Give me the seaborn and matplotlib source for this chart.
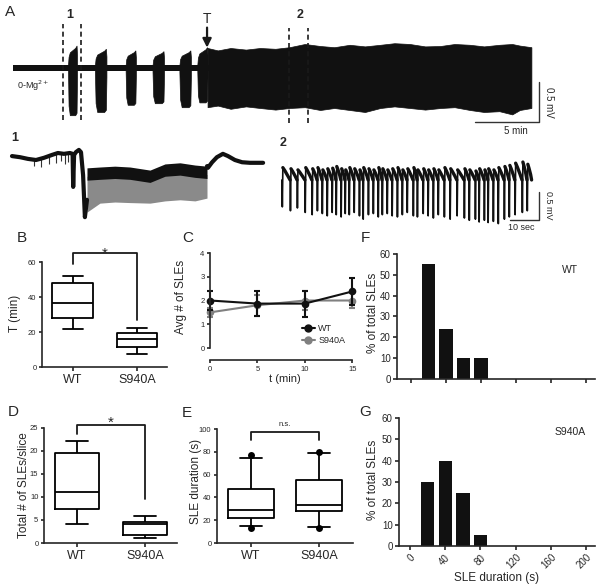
import matplotlib
matplotlib.use("Agg")
import matplotlib.pyplot as plt
import seaborn as sns
import pandas as pd
import numpy as np
from matplotlib.lines import Line2D

# ---------------- data ----------------
# Panel A overview trace (time in min, voltage in mV)
burst_start = [4.3, 6.4, 8.8, 10.9, 13.0, 14.4]
burst_end = [5.0, 7.3, 9.6, 11.8, 13.9, 15.2]
burst_top = [0.28, 0.24, 0.22, 0.21, 0.22, 0.26]
burst_bottom = [-0.59, -0.55, -0.46, -0.44, -0.49, -0.43]
dense_t = [15.2, 16.0, 17.0, 18.2, 19.3, 20.5, 21.6, 22.8, 24.0, 25.1, 26.3, 27.5, 28.7,
           29.8, 31.0, 32.2, 33.4, 34.5, 35.7, 36.8, 38.0, 39.0, 39.6, 40.5]
dense_upper = [0.25, 0.22, 0.25, 0.23, 0.25, 0.24, 0.26, 0.30, 0.275, 0.26, 0.29, 0.27, 0.29,
               0.31, 0.30, 0.27, 0.275, 0.30, 0.29, 0.27, 0.29, 0.30, 0.28, 0.26]
dense_lower = [-0.49, -0.47, -0.51, -0.48, -0.50, -0.52, -0.50, -0.49, -0.525, -0.50, -0.525, -0.55, -0.50,
               -0.48, -0.50, -0.52, -0.50, -0.49, -0.525, -0.55, -0.54, -0.58, -0.525, -0.50]
trace_end = 40.5
seg1_bounds = [3.9, 5.3]
seg2_bounds = [21.6, 23.05]
t_marker = 15.16

# Trace 1 (expanded segment 1; time in s, voltage in mV)
tr1_t = [0, 2.7, 5.3, 8.0, 10.7, 13.3, 15.3, 17.3, 19.3, 20.2, 20.4, 20.7, 21.3, 22.3, 23.0,
         23.7, 24.3, 25.0]
tr1_v = [0.07, 0.05, 0.02, 0.0, 0.04, 0.09, 0.125, 0.11, 0.125, 0.11, -0.48, 0.09, 0.14, 0.18, 0.14,
         -0.27, -1.02, -0.71]
tr1_spike_t = [7.3, 9.6, 12.3, 14.8, 16.2, 17.6, 18.6]
tr1_spike_v = [-0.10, -0.12, -0.08, -0.05, -0.02, -0.08, -0.03]
tr1_burst_t = [25.0, 29.3, 34.3, 39.3, 46.0, 51.0, 56.0, 61.0, 65.0]
tr1_burst_upper = [-0.14, -0.125, -0.11, -0.125, -0.18, -0.07, -0.05, -0.09, -0.11]
tr1_burst_lower = [-0.93, -0.77, -0.75, -0.76, -0.77, -0.73, -0.71, -0.73, -0.68]
tr1_post_t = [65.0, 65.3, 66.7, 68.3, 70.3, 72.0, 74.3, 76.7, 79.3, 83.7]
tr1_post_v = [-0.11, -0.14, -0.04, 0.05, 0.11, 0.07, 0.0, -0.04, -0.05, -0.05]

# Trace 2 (expanded segment 2; event times in s, peaks in mV)
tr2_event_t = [0.0, 2.8, 5.2, 7.9, 10.3, 12.1, 13.8, 15.5, 17.2, 18.6, 20.3, 21.7, 23.1, 24.8, 26.6,
               27.9, 29.7, 31.4, 33.1, 34.5, 36.2, 37.9, 39.7, 41.4, 43.1, 45.2, 46.6, 48.6, 50.3,
               52.1, 53.8, 55.9, 57.9, 60.3, 62.8, 64.5, 66.6, 67.9, 69.7, 71.0, 72.8, 74.5, 76.6,
               78.3, 80.3, 82.8, 84.5]
tr2_event_bottom = [-0.48, -0.55, -0.50, -0.58, -0.62, -0.55, -0.60, -0.64, -0.58, -0.62, -0.66, -0.60,
                    -0.62, -0.58, -0.64, -0.70, -0.62, -0.60, -0.66, -0.62, -0.60, -0.64, -0.66, -0.62,
                    -0.58, -0.64, -0.66, -0.60, -0.64, -0.68, -0.62, -0.66, -0.70, -0.64, -0.68, -0.72,
                    -0.70, -0.75, -0.72, -0.76, -0.74, -0.78, -0.70, -0.66, -0.62, -0.58, -0.55]
tr2_event_top = [0.22, 0.20, 0.18, 0.22, 0.20, 0.22, 0.18, 0.20, 0.21, 0.24, 0.20, 0.18, 0.22, 0.20,
                 0.18, 0.22, 0.20, 0.18, 0.22, 0.20, 0.18, 0.20, 0.22, 0.18, 0.20, 0.22, 0.18, 0.20,
                 0.18, 0.20, 0.18, 0.22, 0.20, 0.18, 0.20, 0.18, 0.16, 0.20, 0.18, 0.20, 0.18, 0.22,
                 0.24, 0.26, 0.30, 0.32, 0.28]

# Panels B, D, E: box summaries [min, Q1, median, Q3, max]
genotypes = ["WT", "S940A"]
b_wt = [22, 28, 36.5, 48, 52]
b_s940a = [7.4, 11.6, 16, 19.4, 22.5]
d_wt = [4.1, 7.3, 11.0, 19.6, 22.2]
d_s940a = [1.0, 1.8, 4.2, 4.6, 5.9]
e_wt = [15, 22, 29, 47, 75]
e_s940a = [14, 28, 33, 55, 79]
e_points_wt = [77, 13]
e_points_s940a = [80, 13.5]

# Panel C
c_t = [0, 5, 10, 15]
c_wt_mean = [2.0, 1.87, 1.87, 2.38]
c_wt_err = [0.42, 0.52, 0.55, 0.55]
c_s_mean = [1.5, 1.8, 2.0, 2.0]
c_s_err = [0.2, 0.45, 0.4, 0.3]

# Panels F, G
dur_bins = [20, 40, 60, 80]
f_wt_pct = [55, 24, 10, 10]
g_s940a_pct = [30, 40, 25, 5]
hist_ticks = [0, 40, 80, 120, 160, 200]

# ---------------- style ----------------
sns.set_theme(style="ticks")
plt.rcParams['font.family'] = ['Liberation Sans', 'DejaVu Sans']
plt.rcParams['axes.linewidth'] = 1.2
plt.rcParams['xtick.major.width'] = 1.2
plt.rcParams['ytick.major.width'] = 1.2

W, H = 600, 584
fig = plt.figure(figsize=(6, 5.84), dpi=100)
BLK = '#111111'


def pbox(l, t, r, b):
    return [l / W, 1 - b / H, (r - l) / W, (b - t) / H]


def ftext(x, y, s, **kw):
    kw.setdefault('ha', 'center')
    kw.setdefault('va', 'center')
    fig.text(x / W, 1 - y / H, s, **kw)


# ---------------- Panel A overview ----------------
axA = fig.add_axes(pbox(0, 0, 600, 140))
axA.set_xlim(-1.016, 45.86)
axA.set_ylim(-0.9, 0.85)
axA.axis('off')
axA.fill_between([0, trace_end], -0.038, 0.038, color=BLK, lw=0)
fr = [0, 0.06, 0.2, 0.8, 0.95, 1.0]
up_shape = [0.15, 0.5, 0.7, 0.9, 1.0, 0.6]
lo_shape = [0.1, 0.8, 1.0, 1.0, 0.95, 0.2]
for s, e, tp, bt in zip(burst_start, burst_end, burst_top, burst_bottom):
    tt = [s + f * (e - s) for f in fr]
    axA.fill_between(tt, [bt * k for k in lo_shape], [tp * k for k in up_shape], color=BLK, lw=0.5)
axA.fill_between(dense_t, dense_lower, dense_upper, color=BLK, lw=0.5)
for xb in seg1_bounds:
    axA.plot([xb, xb], [-0.65, 0.55], ls=(0, (3, 2)), color='k', lw=1.2)
for xb in seg2_bounds:
    axA.plot([xb, xb], [-0.69, 0.50], ls=(0, (3, 2)), color='k', lw=1.2)
axA.annotate('', xy=(t_marker, 0.22), xytext=(t_marker, 0.54),
             arrowprops=dict(arrowstyle='-|>', lw=1.6, color='k', mutation_scale=13))
axA.plot([41.1, 41.1, 36.1], [-0.175, -0.675, -0.675], color='#333333', lw=1.0)

ftext(10, 12, 'A', fontsize=11)
ftext(70, 15, '1', fontsize=9, fontweight='bold')
ftext(300, 15, '2', fontsize=9, fontweight='bold')
ftext(207, 19, 'T', fontsize=10)
ftext(17, 86, '0-Mg$^{2+}$', fontsize=6.5, ha='left')
ftext(516, 131, '5 min', fontsize=7)
ftext(549, 102, '0.5 mV', fontsize=7, rotation=-90)

# ---------------- Trace 1 ----------------
ax1 = fig.add_axes(pbox(5, 140, 270, 225))
ax1.set_xlim(-2.33, 86)
ax1.set_ylim(-1.16, 0.357)
ax1.axis('off')
spike_base = np.interp(tr1_spike_t, tr1_t, tr1_v)
ax1.vlines(tr1_spike_t, tr1_spike_v, spike_base, color='#333333', lw=0.8)
ax1.plot(tr1_t, tr1_v, lw=3, color=BLK, solid_joinstyle='round')
ax1.fill_between(tr1_burst_t, tr1_burst_lower, [u - 0.15 for u in tr1_burst_upper], color='#8a8a8a', lw=0)
ax1.fill_between(tr1_burst_t, [u - 0.22 for u in tr1_burst_upper], tr1_burst_upper, color=BLK, lw=0)
ax1.plot(tr1_post_t, tr1_post_v, lw=3, color=BLK, solid_joinstyle='round')
ftext(15, 138, '1', fontsize=9, fontweight='bold')

# ---------------- Trace 2 ----------------
ax2 = fig.add_axes(pbox(275, 140, 560, 232))
ax2.set_xlim(-2.41, 95.9)
ax2.set_ylim(-0.93, 0.714)
ax2.axis('off')
sx, sy, dx, dy = [], [], [], []
n_ev = len(tr2_event_t)
for i in range(n_ev):
    t0 = tr2_event_t[i]
    t1 = tr2_event_t[i + 1] if i + 1 < n_ev else t0 + 1.6
    d = t1 - t0
    tp = tr2_event_top[i]
    sx += [t0, t0 + 0.12, t0 + 0.3, np.nan]
    sy += [0.0, tr2_event_bottom[i], tp, np.nan]
    dx += [t0 + 0.3, t0 + 0.3 + 0.25 * d, t0 + 0.3 + 0.6 * d, t1, np.nan]
    dy += [tp, tp * 0.75, tp * 0.35, 0.0, np.nan]
ax2.plot(sx, sy, lw=1.2, color=BLK)
ax2.plot(dx, dy, lw=2.4, color=BLK, solid_capstyle='round')
ax2.plot([88.6, 88.6, 78.6], [-0.214, -0.714, -0.714], color='#333333', lw=1.0)
ftext(283, 143, '2', fontsize=9, fontweight='bold')
ftext(521, 228, '10 sec', fontsize=6.5)
ftext(548, 205, '0.5 mV', fontsize=6.5, rotation=-90)


# ---------------- box panels ----------------
def box_panel(rect, wt, s9, width, ylim, yticks, ylabel):
    ax = fig.add_axes(pbox(*rect))
    df = pd.DataFrame({"genotype": ["WT"] * len(wt) + ["S940A"] * len(s9), "value": wt + s9})
    sns.boxplot(data=df, x="genotype", y="value", order=genotypes, whis=(0, 100),
                width=width, fill=False, color="black", linewidth=1.3, ax=ax)
    ax.set_ylim(*ylim)
    ax.set_yticks(yticks)
    ax.set_yticklabels([str(v) for v in yticks], fontsize=5.5)
    ax.tick_params(axis='y', length=2.5, pad=1.5)
    ax.tick_params(axis='x', length=3, pad=2, labelsize=9)
    ax.set_xlabel('')
    ax.set_ylabel(ylabel, fontsize=8.5)
    sns.despine(ax=ax)
    ax.spines['left'].set_bounds(yticks[0], yticks[-1])
    return ax


axB = box_panel((42, 244, 167, 367), b_wt, b_s940a, 0.64, (0, 70.3), [0, 20, 40, 60], 'T (min)')
axB.set_xlim(-0.484, 1.469)
axB.yaxis.set_label_coords(-(42 - 21) / 125, 0.44)
axB.plot([0, 0, 1, 1], [59, 65, 65, 27], color='k', lw=1.3, clip_on=False)
axB.text(0.5, 62.6, '*', ha='center', va='baseline', fontsize=11)

axD = box_panel((44, 420, 177, 543), d_wt, d_s940a, 0.66, (0, 26.7), [0, 5, 10, 15, 20, 25],
                'Total # of SLEs/slice')
axD.set_xlim(-0.485, 1.47)
axD.yaxis.set_label_coords(-(44 - 30) / 133, 0.47)
axD.plot([0, 0, 1, 1], [23.6, 25.7, 25.7, 9.6], color='k', lw=1.3, clip_on=False)
axD.text(0.5, 25.3, '*', ha='center', va='baseline', fontsize=11)

axE = box_panel((217, 420, 353, 543), e_wt, e_s940a, 0.67, (0, 107.9), [0, 20, 40, 60, 80, 100],
                'SLE duration (s)')
axE.set_xlim(-0.52, 1.51)
pts = pd.DataFrame({"genotype": ["WT"] * 2 + ["S940A"] * 2, "value": e_points_wt + e_points_s940a})
sns.stripplot(data=pts, x="genotype", y="value", order=genotypes, jitter=False, color='black',
              size=5, ax=axE, zorder=5)
axE.set_xlabel('')
axE.set_ylabel('SLE duration (s)', fontsize=8.5)
axE.yaxis.set_label_coords(-(217 - 202) / 136, 0.5)
axE.plot([0, 0, 1, 1], [90, 97.6, 97.6, 90], color='k', lw=1.3, clip_on=False)
axE.text(0.5, 102.6, 'n.s.', ha='center', va='baseline', fontsize=5.5)

# ---------------- Panel C ----------------
axC = fig.add_axes(pbox(210, 245, 360, 360))
dfc = pd.DataFrame({"t": c_t * 2, "mean": c_s_mean + c_wt_mean,
                    "genotype": ["S940A"] * 4 + ["WT"] * 4})
pal = {"WT": BLK, "S940A": '#808080'}
axC.errorbar(c_t, c_s_mean, yerr=c_s_err, fmt='none', ecolor='#808080', elinewidth=1.5, capsize=2.5,
             capthick=1.5, clip_on=False)
sns.lineplot(data=dfc, x="t", y="mean", hue="genotype", hue_order=["S940A", "WT"], palette=pal,
             marker='o', markersize=5.5, markeredgewidth=0, lw=1.5, legend=False, ax=axC)
axC.errorbar(c_t, c_wt_mean, yerr=c_wt_err, fmt='none', ecolor=BLK, elinewidth=1.5, capsize=2.5,
             capthick=1.5, clip_on=False)
for ln in axC.lines:
    ln.set_clip_on(False)
axC.set_xlim(0.31, 15.82)
axC.set_ylim(-0.505, 4.337)
axC.set_xticks([0, 5, 10, 15])
axC.set_xticklabels(['0', '5', '10', '15'], fontsize=5.5)
axC.set_yticks([0, 1, 2, 3, 4])
axC.set_yticklabels(['0', '1', '2', '3', '4'], fontsize=5.5)
axC.tick_params(axis='both', length=2.5, pad=1.5)
sns.despine(ax=axC)
axC.spines['left'].set_bounds(0, 4)
axC.spines['bottom'].set_bounds(0, 15)
axC.set_xlabel('t (min)', fontsize=8, labelpad=1)
axC.set_ylabel('Avg # of SLEs', fontsize=8.5)
axC.yaxis.set_label_coords(-(210 - 187) / 150, 0.55)
handles = [Line2D([], [], color=BLK, marker='o', lw=1.5, ms=5),
           Line2D([], [], color='#808080', marker='o', lw=1.5, ms=5)]
axC.legend(handles, ['WT', 'S940A'], loc='upper left', bbox_to_anchor=((302 - 210) / 150, (360 - 324) / 115),
           frameon=False, fontsize=6.5, handlelength=1.4, handletextpad=0.4, labelspacing=0.3,
           borderpad=0, borderaxespad=0)


# ---------------- Panels F, G ----------------
def hist_panel(rect, pct, xlim, ylim, show_xlabels):
    ax = fig.add_axes(pbox(*rect))
    sns.barplot(x=dur_bins, y=pct, native_scale=True, width=0.76, color=BLK, saturation=1,
                edgecolor=BLK, linewidth=0, ax=ax)
    ax.set_xlim(*xlim)
    ax.set_ylim(*ylim)
    ax.set_xticks(hist_ticks)
    ax.set_yticks([0, 10, 20, 30, 40, 50, 60])
    ax.set_yticklabels(['0', '10', '20', '30', '40', '50', '60'], fontsize=7)
    if show_xlabels:
        ax.set_xticklabels([str(v) for v in hist_ticks], fontsize=7, rotation=45, ha='right',
                           rotation_mode='anchor')
        ax.set_xlabel('SLE duration (s)', fontsize=8.5, labelpad=1)
    else:
        ax.set_xticklabels([])
        ax.set_xlabel('')
    ax.tick_params(axis='both', length=3, pad=1.5)
    ax.set_ylabel('% of total SLEs', fontsize=8.5)
    sns.despine(ax=ax)
    ax.spines['left'].set_bounds(0, 60)
    return ax


axF = hist_panel((397, 250, 595, 379), f_wt_pct, (-16, 210), (0, 61.9), False)
axF.yaxis.set_label_coords(-(397 - 379) / 198, 0.51)
axG = hist_panel((399, 412, 595, 546), g_s940a_pct, (-12.5, 210), (0, 62.8), True)
axG.yaxis.set_label_coords(-(399 - 379) / 196, 0.49)

ftext(570, 270, 'WT', fontsize=7.5)
ftext(570, 432, 'S940A', fontsize=7.5)

for letter, (x, y) in {'B': (22, 238), 'C': (188, 238), 'D': (13, 412), 'E': (187, 413),
                       'F': (365, 238), 'G': (365, 412)}.items():
    ftext(x, y, letter, fontsize=11)

fig.savefig('out.png', dpi=100)
